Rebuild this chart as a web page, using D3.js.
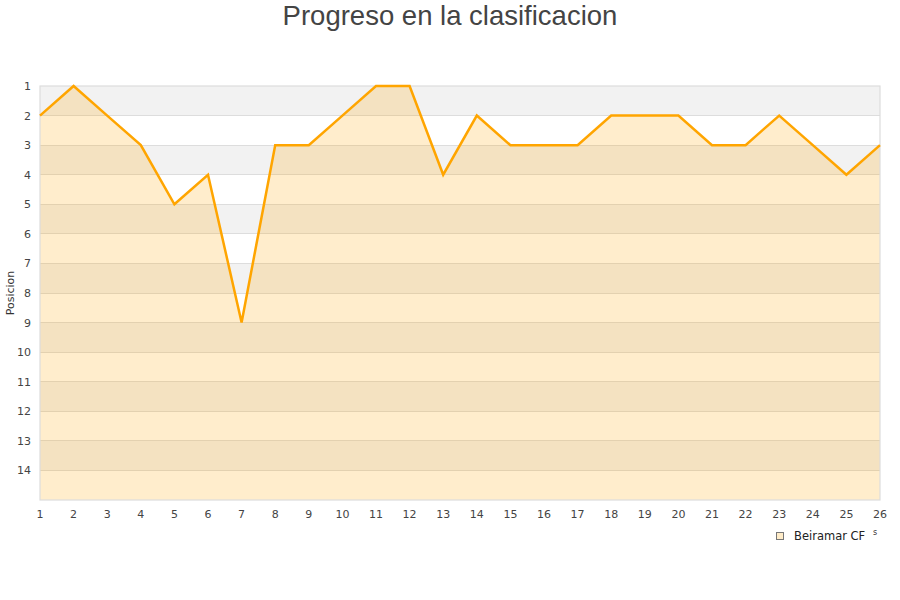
<!DOCTYPE html>
<html><head><meta charset="utf-8">
<script src="https://cdn.jsdelivr.net/npm/d3@7"></script>
<style>body{margin:0;background:#fff}svg{display:block}</style>
</head><body>
<svg id="c" width="900" height="600"></svg>
<script>
const jornadas = [1,2,3,4,5,6,7,8,9,10,11,12,13,14,15,16,17,18,19,20,21,22,23,24,25,26];
const posiciones = [2,1,2,3,5,4,9,3,3,2,1,1,4,2,3,3,3,2,2,2,3,3,2,3,4,3];
const yTicks = [1,2,3,4,5,6,7,8,9,10,11,12,13,14];
const seriesName = "Beiramar CF";
const title = "Progreso en la clasificacion";
const yLabel = "Posicion";

const svg = d3.select("#c");
const m = {l:40, r:880, t:86, b:500};
const x = d3.scaleLinear().domain([1,26]).range([m.l, m.r]);
const y = d3.scaleLinear().domain([1,15]).range([m.t, m.b]);

// background bands
const bands = d3.range(1,15);
svg.append("g").selectAll("rect").data(bands).join("rect")
  .attr("x", m.l).attr("width", m.r-m.l)
  .attr("y", d=>y(d)).attr("height", d=>y(d+1)-y(d))
  .attr("fill", d=> d%2===1 ? "#f2f2f2" : "#ffffff");

// grid lines
svg.append("g").selectAll("line").data(d3.range(2,15)).join("line")
  .attr("x1", m.l).attr("x2", m.r)
  .attr("y1", d=>y(d)).attr("y2", d=>y(d))
  .attr("stroke", "#dddddd").attr("stroke-width", 1).attr("shape-rendering","crispEdges");

// area
const area = d3.area().x((d,i)=>x(jornadas[i])).y0(m.b).y1(d=>y(d));
svg.append("path").datum(posiciones).attr("d", area)
  .attr("fill", "rgba(255,165,0,0.2)");

// border
svg.append("rect").attr("x", m.l).attr("y", m.t).attr("width", m.r-m.l).attr("height", m.b-m.t)
  .attr("fill","none").attr("stroke","#dddddd").attr("stroke-width",1.2);

// line
const line = d3.line().x((d,i)=>x(jornadas[i])).y(d=>y(d));
svg.append("path").datum(posiciones).attr("d", line)
  .attr("fill","none").attr("stroke","#ffa500").attr("stroke-width",2.5).attr("stroke-linejoin","miter");

// y axis labels
svg.append("g").selectAll("text").data(yTicks).join("text")
  .attr("x", 31).attr("y", d=>y(d)+4).attr("text-anchor","end")
  .attr("font-family","DejaVu Sans, sans-serif").attr("font-size",11).attr("fill","#444")
  .text(d=>d);

// x axis labels
svg.append("g").selectAll("text").data(jornadas).join("text")
  .attr("x", d=>x(d)).attr("y", 518).attr("text-anchor","middle")
  .attr("font-family","DejaVu Sans, sans-serif").attr("font-size",11).attr("fill","#444")
  .text(d=>d);

// y label
svg.append("text").attr("transform","translate(14,293) rotate(-90)")
  .attr("text-anchor","middle").attr("font-family","DejaVu Sans, sans-serif")
  .attr("font-size",11).attr("fill","#333").text(yLabel);

// title
svg.append("text").attr("x",450).attr("y",25).attr("text-anchor","middle")
  .attr("font-family","Liberation Sans, Arial, sans-serif").attr("font-size",27.5).attr("fill","#444")
  .text(title);

// legend
svg.append("rect").attr("x",776.5).attr("y",532.5).attr("width",7).attr("height",7)
  .attr("fill","#ffecc8").attr("stroke","#777").attr("stroke-width",1);
svg.append("text").attr("x",794).attr("y",540).attr("font-family","DejaVu Sans, sans-serif")
  .attr("font-size",11.5).attr("fill","#222").text(seriesName);
svg.append("text").attr("x",873).attr("y",535).attr("font-family","DejaVu Sans, sans-serif")
  .attr("font-size",8).attr("fill","#333").text("s");
</script>
</body></html>
